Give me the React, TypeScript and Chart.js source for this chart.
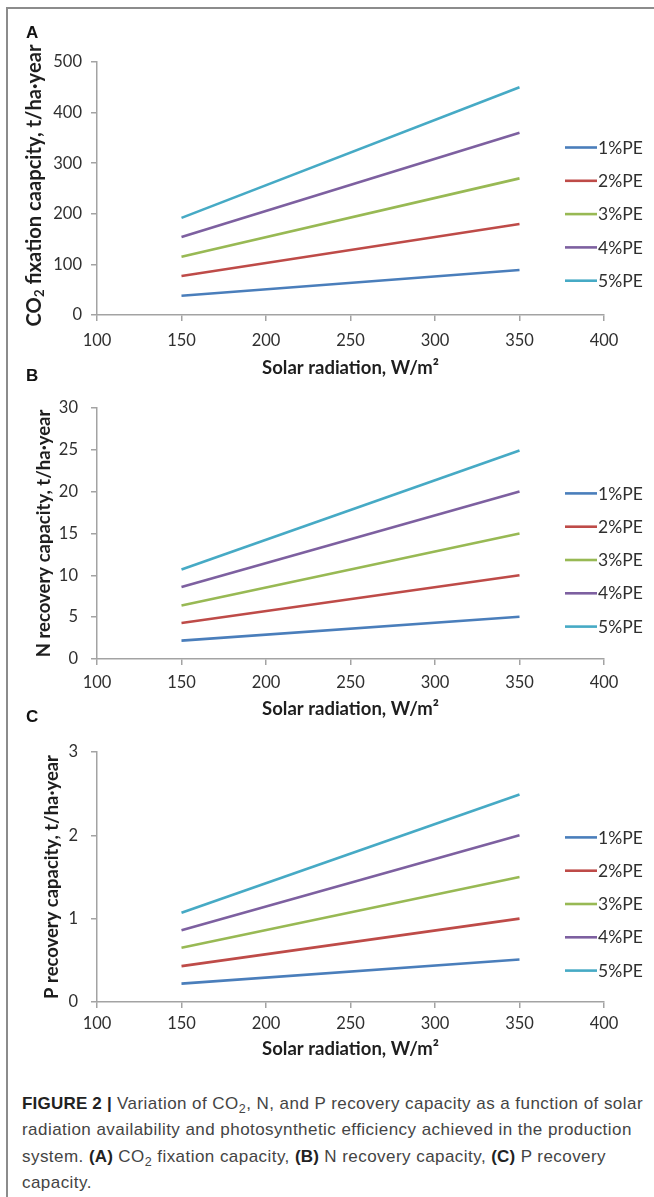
import React, { useEffect, useRef } from "react";
import { Chart, registerables } from "chart.js";

Chart.register(...registerables);

// ---------- data ----------
const SERIES_LABELS = ["1%PE", "2%PE", "3%PE", "4%PE", "5%PE"];
const SERIES_COLORS = ["#4a7ebb", "#be4b48", "#98b954", "#7d60a0", "#46aac5"];
const RADIATION = [150, 350]; // W/m2
const X_TICKS = [100, 150, 200, 250, 300, 350, 400];

// values at 150 and 350 W/m2, one pair per series (1%..5% PE)
const CO2_FIXATION = [
  [38, 89],
  [77, 180],
  [115, 270],
  [154, 360],
  [192, 450],
];
const N_RECOVERY = [
  [2.2, 5.05],
  [4.3, 10],
  [6.4, 15],
  [8.6, 20],
  [10.7, 24.9],
];
const P_RECOVERY = [
  [0.22, 0.51],
  [0.43, 1.0],
  [0.65, 1.5],
  [0.86, 2.0],
  [1.07, 2.49],
];

const CO2_TICKS = [0, 100, 200, 300, 400, 500];
const N_TICKS = [0, 5, 10, 15, 20, 25, 30];
const P_TICKS = [0, 1, 2, 3];

const X_TITLE = "Solar radiation, W/m²";

type Part = { text: string; sub?: boolean };

type PanelCfg = {
  top: number;
  height: number;
  padTop: number;
  series: number[][];
  yTicks: number[];
  yTickPad: number;
  xTickPad: number;
  xTitlePad: number;
  yTitle: Part[];
  yTitleX: number;
  yTitleDy: number;
  yTitleLen: number;
};

const FONT = "Lato, 'Open Sans', sans-serif";
const TICK_COLOR = "#2f2f2f";
const TITLE_COLOR = "#1e1e1e";

function makeYTitlePlugin(cfg: PanelCfg) {
  return {
    id: "yTitleCustom",
    afterDraw(chart: any) {
      const { ctx, chartArea } = chart;
      const cy = (chartArea.top + chartArea.bottom) / 2 + cfg.yTitleDy;
      const measure = (size: number) => {
        let w = 0;
        for (const p of cfg.yTitle) {
          ctx.font = `bold ${p.sub ? size * 0.65 : size}px ${FONT}`;
          w += ctx.measureText(p.text).width;
        }
        return w;
      };
      const base = 16;
      const size = (base * cfg.yTitleLen) / measure(base);
      const total = measure(size);
      ctx.save();
      ctx.translate(cfg.yTitleX, cy);
      ctx.rotate(-Math.PI / 2);
      ctx.fillStyle = TITLE_COLOR;
      ctx.textBaseline = "middle";
      ctx.textAlign = "left";
      let x = -total / 2;
      for (const p of cfg.yTitle) {
        const s = p.sub ? size * 0.65 : size;
        ctx.font = `bold ${s}px ${FONT}`;
        ctx.fillText(p.text, x, p.sub ? size * 0.28 : 0);
        x += ctx.measureText(p.text).width;
      }
      ctx.restore();
    },
  };
}

const sideLegendPlugin = {
  id: "sideLegend",
  afterDraw(chart: any) {
    const { ctx, chartArea } = chart;
    const top = chartArea.top + 85.5;
    const gap = 33.3;
    ctx.save();
    chart.data.datasets.forEach((ds: any, i: number) => {
      const y = top + i * gap;
      ctx.strokeStyle = ds.borderColor;
      ctx.lineWidth = 2.6;
      ctx.beginPath();
      ctx.moveTo(chartArea.right - 39, y);
      ctx.lineTo(chartArea.right - 7, y);
      ctx.stroke();
      ctx.fillStyle = TICK_COLOR;
      ctx.font = `17.5px ${FONT}`;
      ctx.textAlign = "left";
      ctx.textBaseline = "middle";
      ctx.fillText(ds.label, chartArea.right - 6, y + 0.5);
    });
    ctx.restore();
  },
};

function Panel({ cfg }: { cfg: PanelCfg }) {
  const ref = useRef<HTMLCanvasElement | null>(null);
  useEffect(() => {
    if (!ref.current) return;
    const axisColor = "#a3a3a3";
    const chart = new Chart(ref.current, {
      type: "line",
      data: {
        datasets: cfg.series.map((vals, i) => ({
          label: SERIES_LABELS[i],
          data: RADIATION.map((x, j) => ({ x, y: vals[j] })),
          borderColor: SERIES_COLORS[i],
          backgroundColor: SERIES_COLORS[i],
          borderWidth: 2.6,
          pointRadius: 0,
          tension: 0,
          fill: false,
        })),
      },
      options: {
        animation: false,
        responsive: false,
        devicePixelRatio: 1,
        events: [],
        layout: { padding: { top: cfg.padTop, left: 0, right: 50, bottom: 0 } },
        plugins: {
          legend: { display: false },
          tooltip: { enabled: false },
        },
        scales: {
          x: {
            type: "linear",
            min: X_TICKS[0],
            max: X_TICKS[X_TICKS.length - 1],
            afterBuildTicks: (scale: any) => {
              scale.ticks = X_TICKS.map((v) => ({ value: v }));
            },
            afterFit: (scale: any) => {
              scale.height = 70;
            },
            grid: {
              display: true,
              drawOnChartArea: false,
              drawTicks: true,
              tickLength: 6,
              color: axisColor,
              lineWidth: 1.5,
            },
            border: { display: true, color: axisColor, width: 1.5 },
            ticks: {
              color: TICK_COLOR,
              font: { family: FONT, size: 16.5 },
              padding: cfg.xTickPad,
              maxRotation: 0,
            },
            title: {
              display: true,
              text: X_TITLE,
              color: TITLE_COLOR,
              font: { family: FONT, size: 18.5, weight: "bold" },
              padding: { top: 0, bottom: cfg.xTitlePad },
            },
          },
          y: {
            type: "linear",
            min: cfg.yTicks[0],
            max: cfg.yTicks[cfg.yTicks.length - 1],
            afterBuildTicks: (scale: any) => {
              scale.ticks = cfg.yTicks.map((v) => ({ value: v }));
            },
            afterFit: (scale: any) => {
              scale.width = 97;
            },
            grid: {
              display: true,
              drawOnChartArea: false,
              drawTicks: true,
              tickLength: 6,
              color: axisColor,
              lineWidth: 1.5,
            },
            border: { display: true, color: axisColor, width: 1.5 },
            ticks: {
              color: TICK_COLOR,
              font: { family: FONT, size: 16.5 },
              padding: cfg.yTickPad,
            },
          },
        },
      },
      plugins: [makeYTitlePlugin(cfg), sideLegendPlugin],
    } as any);
    return () => chart.destroy();
  }, [cfg]);
  return (
    <canvas
      ref={ref}
      width={654}
      height={cfg.height}
      style={{ position: "absolute", left: 0, top: cfg.top, width: 654, height: cfg.height }}
    />
  );
}

const PANEL_A: PanelCfg = {
  top: 20,
  height: 365,
  padTop: 42,
  series: CO2_FIXATION,
  yTicks: CO2_TICKS,
  yTickPad: 9,
  xTickPad: 9.7,
  xTitlePad: 5.9,
  yTitle: [{ text: "CO" }, { text: "2", sub: true }, { text: " fixation caapcity, t/ha·year" }],
  yTitleX: 34.5,
  yTitleDy: -3,
  yTitleLen: 282,
};
const PANEL_B: PanelCfg = {
  top: 385,
  height: 344,
  padTop: 14,
  series: N_RECOVERY,
  yTicks: N_TICKS,
  yTickPad: 13,
  xTickPad: 8.1,
  xTitlePad: 8.9,
  yTitle: [{ text: "N recovery capacity, t/ha·year" }],
  yTitleX: 44,
  yTitleDy: 0,
  yTitleLen: 248,
};
const PANEL_C: PanelCfg = {
  top: 729,
  height: 343,
  padTop: 10,
  series: P_RECOVERY,
  yTicks: P_TICKS,
  yTickPad: 13,
  xTickPad: 6.1,
  xTitlePad: 11.9,
  yTitle: [{ text: "P recovery capacity, t/ha·year" }],
  yTitleX: 52.5,
  yTitleDy: 0,
  yTitleLen: 244,
};

const labelStyle = (top: number): React.CSSProperties => ({
  position: "absolute",
  left: 26,
  top,
  fontFamily: "'Liberation Sans', Arial, sans-serif",
  fontWeight: "bold",
  fontSize: 17,
  lineHeight: "20px",
  color: "#111",
});

const subStyle: React.CSSProperties = { fontSize: 12.5, verticalAlign: "-4px", lineHeight: 0 };
const boldStyle: React.CSSProperties = { color: "#222", letterSpacing: "0.2px" };

export default function App() {
  return (
    <div
      style={{
        position: "absolute",
        left: 0,
        top: 0,
        width: 654,
        height: 1197,
        background: "#fff",
        overflow: "hidden",
      }}
    >
      <div
        style={{
          position: "absolute",
          left: 6,
          top: 7,
          width: 660,
          height: 1200,
          borderLeft: "2px solid #8c8c8c",
          borderTop: "2px solid #8c8c8c",
          boxSizing: "border-box",
        }}
      />
      <Panel cfg={PANEL_A} />
      <Panel cfg={PANEL_B} />
      <Panel cfg={PANEL_C} />
      <div style={labelStyle(23)}>A</div>
      <div style={labelStyle(366)}>B</div>
      <div style={labelStyle(707)}>C</div>
      <div
        style={{
          position: "absolute",
          left: 22,
          top: 1091,
          fontFamily: "'Liberation Sans', Arial, sans-serif",
          fontSize: 17,
          letterSpacing: "0.45px",
          lineHeight: "26.4px",
          color: "#444",
          whiteSpace: "nowrap",
        }}
      >
        <div>
          <b style={boldStyle}>FIGURE 2 |</b> Variation of CO<sub style={subStyle}>2</sub>, N, and P
          recovery capacity as a function of solar
        </div>
        <div>radiation availability and photosynthetic efficiency achieved in the production</div>
        <div>
          system. <b style={boldStyle}>(A)</b> CO<sub style={subStyle}>2</sub> fixation capacity,{" "}
          <b style={boldStyle}>(B)</b> N recovery capacity, <b style={boldStyle}>(C)</b> P recovery
        </div>
        <div>capacity.</div>
      </div>
    </div>
  );
}
